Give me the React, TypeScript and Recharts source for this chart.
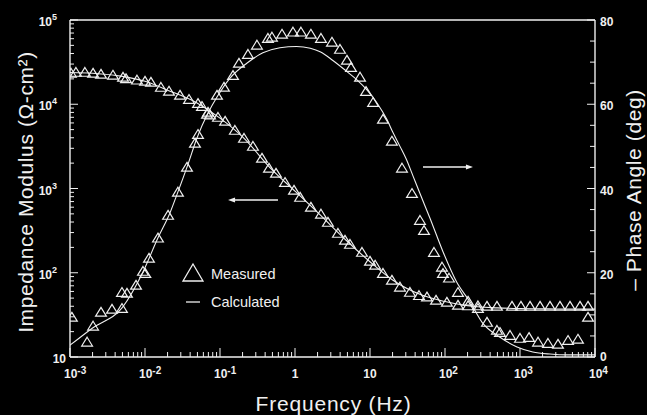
import { ComposedChart, Legend, Line, ReferenceLine, Scatter, XAxis, YAxis } from "recharts";

const INK = "#f0f0f0";
const FONT = "'Liberation Sans', Arial, Helvetica, sans-serif";

// measured impedance modulus, Hz / ohm-cm2
const modulusFreq = [
  0.00103, 0.0012, 0.00158, 0.00203, 0.00259, 0.00374, 0.00509, 0.00558, 0.00782, 0.01, 0.012, 0.0163, 0.0209,
  0.0293, 0.0386, 0.0509, 0.0575, 0.0692, 0.0736, 0.094, 0.117, 0.158, 0.209, 0.275, 0.363, 0.45, 0.558, 0.736, 0.97,
  1.17, 1.63, 2.22, 2.75, 3.74, 4.64, 5.41, 7.82, 10, 11.7, 14.9, 19.6, 25.1, 34.1, 45, 57.5, 75.9, 106, 149, 203, 275,
  363, 493, 782, 1030, 1360, 1850, 2510, 3410, 4640, 6310, 8070
];
const modulusMeasured = [
  23600, 24100, 24100, 23500, 22900, 22300, 21100, 20200, 19500, 18900, 18400, 16000, 14400, 12900, 11500, 10300,
  9500, 8100, 7500, 7050, 6330, 4940, 3970, 3190, 2300, 1750, 1530, 1190, 960, 792, 603, 500, 400, 296, 245, 219, 176,
  138, 124, 99, 82, 68, 59, 54, 52, 47.5, 45, 41.4, 40.8, 40.8, 40.3, 40.3, 40.3, 40.3, 40.3, 40.3, 40.3, 40.3, 40.3,
  40.3, 40.3
];

// measured phase angle, Hz / deg
const phaseFreq = [
  0.00106, 0.00169, 0.00203, 0.00259, 0.00363, 0.00493, 0.00493, 0.00575, 0.00759, 0.0094, 0.0101, 0.0113, 0.0149,
  0.0203, 0.0275, 0.0363, 0.0464, 0.0509, 0.0671, 0.0912, 0.113, 0.149, 0.179, 0.236, 0.311, 0.436, 0.493, 0.671, 0.94,
  1.2, 1.63, 2.22, 3.11, 3.98, 4.93, 5.58, 7.36, 8.85, 11.0, 14.9, 19.6, 26.7, 36.3, 46.4, 52.5, 71.3, 91.2, 94, 113,
  149, 203, 275, 363, 493, 541, 736, 1000, 1320, 1740, 2360, 3210, 4370, 5930, 8070
];
const phaseMeasured = [
  9.5, 3.6, 7.4, 10.7, 11.4, 15.4, 11.6, 15.2, 17.1, 20.4, 19.9, 23.5, 28.3, 33.7, 39.2, 45.1, 50.8, 52.9, 57.7, 62.2,
  64.1, 66.9, 69.8, 71.9, 74.1, 75.7, 76.0, 76.7, 77.2, 77.2, 76.7, 75.7, 74.8, 73.1, 70.5, 68.8, 66.5, 63.1, 60.5,
  56.5, 51.3, 44.9, 38.9, 32.5, 30.1, 24.9, 21.4, 19.9, 18.8, 15.4, 13.3, 11.6, 8.3, 6.4, 5.9, 5.2, 4.5, 4.7, 3.6, 3.3,
  3.1, 4.0, 4.3, 9.5
];

// fitted curves
const modulusFitFreq = [0.001, 0.002, 0.005, 0.01, 0.02, 0.05, 0.1, 0.2, 0.5, 1, 2, 5, 10, 20, 50, 100, 200, 500, 1000, 3000, 10000];
const modulusFit = [23800, 23300, 21400, 18700, 14700, 10300, 6850, 4100, 1650, 930, 520, 235, 135, 82, 54, 45.5, 40.5, 38.3, 37.6, 37.2, 37];

const phaseFitFreq = [
  0.001, 0.002, 0.005, 0.0094, 0.0149, 0.0215, 0.0275, 0.0372, 0.0493, 0.0692, 0.0912, 0.136, 0.23, 0.373, 0.63, 1.05,
  1.6, 2.2, 3.2, 4.9, 6.7, 9.1, 12.4, 16.9, 20.1, 25.1, 30.4, 37.4, 46.4, 62.9, 94, 143, 215, 316, 541, 913, 1480, 2510,
  4220, 10000
];
const phaseFit = [
  2.8, 6.9, 11.8, 20.2, 28.3, 34.2, 39.2, 45.6, 52.0, 57.9, 61.7, 66.2, 69.8, 72.2, 73.4, 73.7, 73.3, 72.4, 70.4, 67.8,
  65.8, 63.4, 60.3, 56.3, 53.4, 50.0, 47.0, 43.0, 38.8, 33.0, 25.0, 17.8, 13.1, 8.1, 4.7, 2.4, 1.2, 0.7, 0.5, 0.5
];

// axis ticks: [base, exponent]
const freqMajor = [0.001, 0.01, 0.1, 1, 10, 100, 1000, 10000];
const freqLabels = [["10", "-3"], ["10", "-2"], ["10", "-1"], ["1", ""], ["10", ""], ["10", "2"], ["10", "3"], ["10", "4"]];
const modulusMajor = [10, 100, 1000, 10000, 100000];
const modulusLabels = [["10", ""], ["10", "2"], ["10", "3"], ["10", "4"], ["10", "5"]];
const phaseMajor = [0, 20, 40, 60, 80];
const phaseTicks = [0, 5, 10, 15, 20, 25, 30, 35, 40, 45, 50, 55, 60, 65, 70, 75, 80];

// 2..9 inside every decade
function withMinors(majors: number[]) {
  const out: number[] = [];
  majors.forEach((m, i) => {
    out.push(m);
    if (i < majors.length - 1) for (let k = 2; k < 10; k++) out.push(m * k);
  });
  return out;
}

const zip = (xs: number[], ys: number[], key: string) => xs.map((f, i) => ({ f, [key]: ys[i] }));

const modulusPoints = zip(modulusFreq, modulusMeasured, "z");
const phasePoints = zip(phaseFreq, phaseMeasured, "p");
const modulusLine = zip(modulusFitFreq, modulusFit, "z");
const phaseLine = zip(phaseFitFreq, phaseFit, "p");

function Triangle(props: any) {
  const { cx, cy } = props;
  if (cx == null || cy == null) return null;
  return (
    <path
      d={`M${cx},${cy - 4.6}L${cx + 5.4},${cy + 4.2}L${cx - 5.4},${cy + 4.2}Z`}
      fill="none"
      stroke={INK}
      strokeWidth={1.2}
    />
  );
}

function FreqTick({ x, y, payload }: any) {
  const i = freqMajor.indexOf(payload.value);
  const major = i >= 0;
  const [base, exp] = major ? freqLabels[i] : ["", ""];
  return (
    <g>
      <line x1={x} x2={x} y1={y} y2={y - (major ? 9 : 5)} stroke={INK} />
      {major && (
        <text
          x={exp ? x - 6 : x}
          y={y + 21}
          textAnchor={exp ? "start" : "middle"}
          fill={INK}
          fontSize={12}
          fontWeight="bold"
          fontFamily={FONT}
        >
          {base}
          {exp && (
            <tspan dy={-4} fontSize={10}>
              {exp}
            </tspan>
          )}
        </text>
      )}
    </g>
  );
}

function ModulusTick({ x, y, payload }: any) {
  const i = modulusMajor.indexOf(payload.value);
  const major = i >= 0;
  const [base, exp] = major ? modulusLabels[i] : ["", ""];
  return (
    <g>
      <line x1={x} x2={x + (major ? 8 : 4)} y1={y} y2={y} stroke={INK} />
      {major && (
        <text x={exp ? x - 13 : x - 4} y={y + 6} textAnchor="end" fill={INK} fontSize={12} fontWeight="bold" fontFamily={FONT}>
          {exp ? (
            <>
              <tspan>{base}</tspan>
              <tspan dy={-6} fontSize={9}>
                {exp}
              </tspan>
            </>
          ) : (
            base
          )}
        </text>
      )}
    </g>
  );
}

function PhaseTick({ x, y, payload }: any) {
  const major = phaseMajor.includes(payload.value);
  return (
    <g>
      <line x1={x} x2={x - (major ? 8 : 5)} y1={y} y2={y} stroke={INK} />
      {major && (
        <text x={x + 5} y={y + (payload.value === 0 ? 4 : 6)} fill={INK} fontSize={12} fontWeight="bold" fontFamily={FONT}>
          {payload.value}
        </text>
      )}
    </g>
  );
}

function VerticalTitle({ viewBox, text, dx, cy }: any) {
  const x = viewBox.x + dx;
  return (
    <text
      x={x}
      y={cy}
      transform={`rotate(-90 ${x} ${cy})`}
      textAnchor="middle"
      fill={INK}
      fontSize={21}
      letterSpacing={0.6}
      fontFamily={FONT}
    >
      {text}
    </text>
  );
}

function FreqTitle({ viewBox }: any) {
  return (
    <text
      x={viewBox.x + viewBox.width / 2 + 1}
      y={viewBox.y + 54}
      textAnchor="middle"
      fill={INK}
      fontSize={21}
      letterSpacing={0.8}
      fontFamily={FONT}
    >
      Frequency (Hz)
    </text>
  );
}

function Arrow({ x1, y1, x2, y2 }: any) {
  const dir = Math.sign(x2 - x1);
  return (
    <g>
      <line x1={x1} y1={y1} x2={x2 - dir * 4} y2={y2} stroke={INK} strokeWidth={1.6} />
      <path d={`M${x2},${y2}L${x2 - dir * 7},${y2 - 2.6}L${x2 - dir * 7},${y2 + 2.6}Z`} fill={INK} />
    </g>
  );
}

function LegendBox() {
  return (
    <svg width={110} height={50} style={{ display: "block" }}>
      <path d="M12,3L22,20L2,20Z" fill="none" stroke={INK} strokeWidth={1.3} />
      <text x={30} y={18} fill={INK} fontSize={14.5} fontFamily={FONT}>
        Measured
      </text>
      <line x1={5} x2={19} y1={41} y2={41} stroke={INK} strokeWidth={1.3} />
      <text x={30} y={46} fill={INK} fontSize={14.5} fontFamily={FONT}>
        Calculated
      </text>
    </svg>
  );
}

export default function App() {
  return (
    <div style={{ width: 647, height: 415, background: "#000" }}>
      <style>{"body{margin:0;background:#000}"}</style>
      <ComposedChart width={647} height={415} margin={{ top: 20, right: 0, bottom: 0, left: 0 }}>
        <XAxis
          dataKey="f"
          type="number"
          scale="log"
          domain={[0.001, 10000]}
          allowDataOverflow
          ticks={withMinors(freqMajor)}
          interval={0}
          height={58}
          tickSize={0}
          tickMargin={0}
          tickLine={false}
          tick={<FreqTick />}
          axisLine={{ stroke: INK, strokeWidth: 1.4 }}
          label={<FreqTitle />}
        />
        <YAxis
          yAxisId="left"
          type="number"
          scale="log"
          domain={[10, 100000]}
          allowDataOverflow
          ticks={withMinors(modulusMajor)}
          interval={0}
          width={70}
          tickSize={0}
          tickMargin={0}
          tickLine={false}
          tick={<ModulusTick />}
          axisLine={{ stroke: INK, strokeWidth: 1.4 }}
          label={<VerticalTitle text="Impedance Modulus (Ω-cm²)" dx={33} cy={192} />}
        />
        <YAxis
          yAxisId="right"
          orientation="right"
          type="number"
          domain={[0, 80]}
          allowDataOverflow
          ticks={phaseTicks}
          interval={0}
          width={52}
          tickSize={0}
          tickMargin={0}
          tickLine={false}
          tick={<PhaseTick />}
          axisLine={{ stroke: INK, strokeWidth: 1.4 }}
          label={<VerticalTitle text="– Phase Angle (deg)" dx={46} cy={190} />}
        />
        <ReferenceLine yAxisId="left" y={100000} stroke={INK} strokeWidth={1.4} />
        <ReferenceLine
          yAxisId="left"
          segment={[{ x: 0.593, y: 730 }, { x: 0.128, y: 730 }]}
          shape={<Arrow />}
        />
        <ReferenceLine
          yAxisId="right"
          segment={[{ x: 50.9, y: 45.1 }, { x: 236, y: 45.1 }]}
          shape={<Arrow />}
        />
        <Line
          yAxisId="left"
          data={modulusLine}
          dataKey="z"
          type="monotone"
          stroke={INK}
          strokeWidth={1.1}
          dot={false}
          isAnimationActive={false}
        />
        <Line
          yAxisId="right"
          data={phaseLine}
          dataKey="p"
          type="monotone"
          stroke={INK}
          strokeWidth={1.1}
          dot={false}
          isAnimationActive={false}
        />
        <Scatter yAxisId="left" data={modulusPoints} dataKey="z" shape={<Triangle />} isAnimationActive={false} />
        <Scatter yAxisId="right" data={phasePoints} dataKey="p" shape={<Triangle />} isAnimationActive={false} />
        <Legend
          layout="vertical"
          align="center"
          verticalAlign="middle"
          content={<LegendBox />}
          wrapperStyle={{ position: "absolute", left: 181, top: 261, width: 110, height: 50 }}
        />
      </ComposedChart>
    </div>
  );
}
